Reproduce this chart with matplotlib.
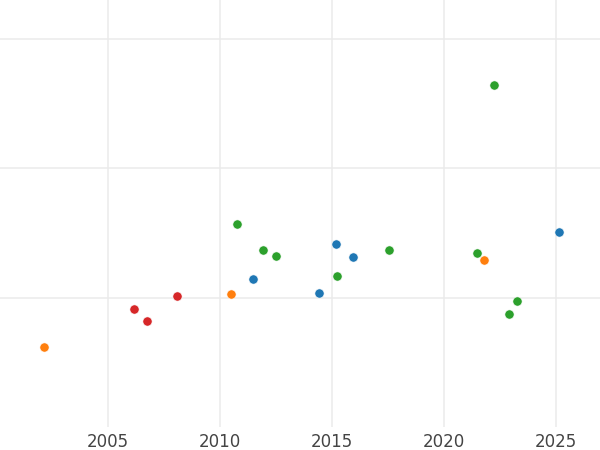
import matplotlib
matplotlib.use("Agg")
import matplotlib.pyplot as plt

# points per colour group (year, value)
blue_x = [2011.47, 2014.40, 2015.16, 2015.92, 2025.15]
blue_y = [1.43, 0.39, 4.17, 3.20, 5.10]
orange_x = [2002.14, 2010.47, 2021.77]
orange_y = [-3.78, 0.31, 2.90]
green_x = [2010.74, 2011.94, 2012.48, 2015.20, 2017.55, 2021.45, 2022.23, 2022.90, 2023.24]
green_y = [5.68, 3.67, 3.28, 1.70, 3.71, 3.44, 16.45, -1.27, -0.23]
red_x = [2006.16, 2006.72, 2008.08]
red_y = [-0.85, -1.74, 0.12]

xticks = [2005, 2010, 2015, 2020, 2025]
yticks = [0, 10, 20]

fig = plt.figure(figsize=(6, 4.5), dpi=100)
ax = fig.add_axes([0, 0.051, 1, 0.949])

for xs, ys, c in [(blue_x, blue_y, "#1f77b4"), (orange_x, orange_y, "#ff7f0e"),
                  (green_x, green_y, "#2ca02c"), (red_x, red_y, "#d62728")]:
    ax.scatter(xs, ys, s=44, color=c, edgecolors="white", linewidths=0.4, zorder=3)

ax.set_xlim(2000.18, 2026.96)
ax.set_ylim(-9.96, 23.0)
ax.set_xticks(xticks)
ax.set_yticks(yticks)
ax.set_yticklabels([])
ax.grid(True, color="#ebebeb", lw=1.1)
ax.set_axisbelow(True)
ax.tick_params(axis="both", length=0, labelsize=12, colors="#444444", pad=4)
for s in ax.spines.values():
    s.set_visible(False)

fig.savefig("out.png", dpi=100)
